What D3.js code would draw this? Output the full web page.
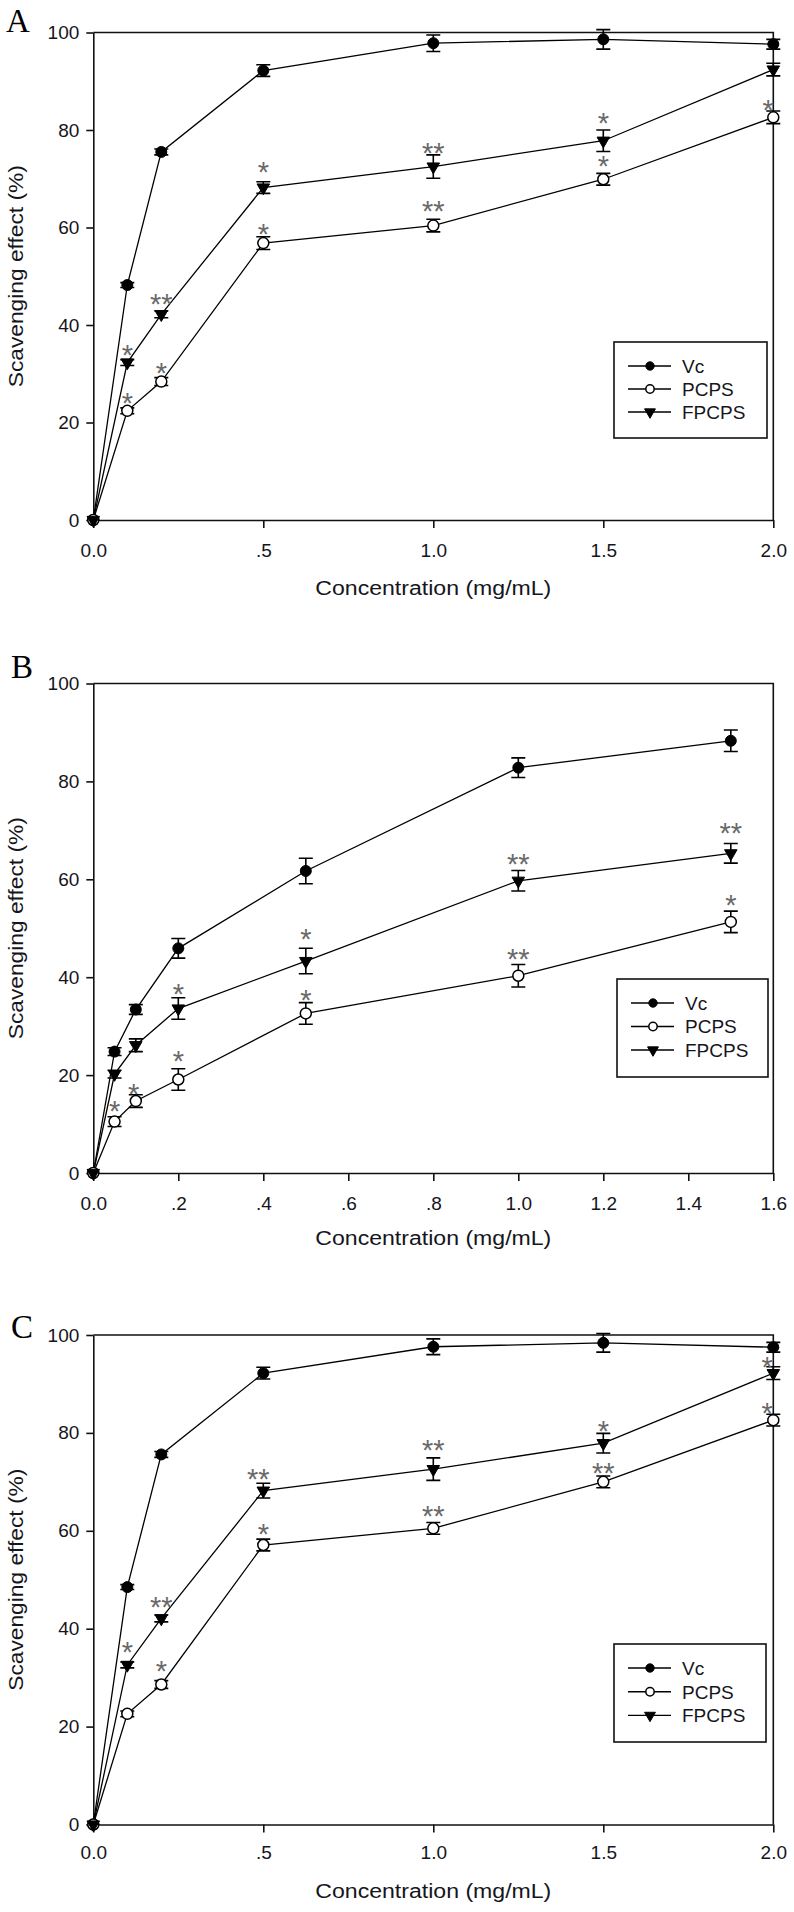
<!DOCTYPE html>
<html><head><meta charset="utf-8">
<script src="https://cdn.jsdelivr.net/npm/d3@7"></script>
<style>body{margin:0;background:#fff}svg text{font-family:"Liberation Sans",Arial,sans-serif}</style>
</head><body>
<svg id="c" width="794" height="1912"></svg>
<script>
// ---------- data ----------
const seriesNames = ["Vc", "PCPS", "FPCPS"];
const yTicks = [0, 20, 40, 60, 80, 100];
const xTicksAC = [0, 0.5, 1.0, 1.5, 2.0];
const xTickLabelsAC = ["0.0", ".5", "1.0", "1.5", "2.0"];
const xTicksB = [0, 0.2, 0.4, 0.6, 0.8, 1.0, 1.2, 1.4, 1.6];
const xTickLabelsB = ["0.0", ".2", ".4", ".6", ".8", "1.0", "1.2", "1.4", "1.6"];

// Panel A
const concA = [0, 0.1, 0.2, 0.5, 1.0, 1.5, 2.0];
const vcA = [0, 48.2, 75.5, 92.2, 97.8, 98.6, 97.6];
const vcErrA = [0.4, 0.5, 0.6, 1.2, 1.7, 2.0, 1.0];
const pcpsA = [0, 22.4, 28.4, 56.8, 60.4, 69.9, 82.6];
const pcpsErrA = [0.4, 0.6, 0.8, 1.3, 1.3, 1.2, 1.3];
const fpcpsA = [0, 32.3, 42.2, 68.2, 72.5, 77.8, 92.4];
const fpcpsErrA = [0.4, 0.6, 0.7, 1.2, 2.4, 2.2, 1.3];
const starXA = [0.1, 0.1, 0.2, 0.2, 0.5, 0.5, 1.0, 1.0, 1.5, 1.5, 1.985];
const starYA = [25.3, 35.3, 31.6, 45.8, 60.0, 72.7, 64.8, 76.6, 74.0, 82.9, 85.5];
const starTA = ["*", "*", "*", "**", "*", "*", "**", "**", "*", "*", "*"];

// Panel B
const concB = [0, 0.05, 0.1, 0.2, 0.5, 1.0, 1.5];
const vcB = [0, 24.8, 33.4, 45.9, 61.7, 82.8, 88.3];
const vcErrB = [0.4, 0.8, 1.0, 2.0, 2.6, 2.0, 2.2];
const pcpsB = [0, 10.5, 14.7, 19.1, 32.6, 40.3, 51.3];
const pcpsErrB = [0.4, 1.0, 1.3, 2.2, 2.2, 2.3, 2.2];
const fpcpsB = [0, 20.2, 26.1, 33.6, 43.3, 59.7, 65.3];
const fpcpsErrB = [0.4, 0.8, 1.3, 2.2, 2.6, 2.1, 2.0];
const starXB = [0.05, 0.095, 0.2, 0.2, 0.5, 0.5, 1.0, 1.0, 1.5, 1.5];
const starYB = [14.1, 17.6, 24.3, 37.9, 36.7, 49.2, 45.2, 64.5, 56.1, 70.9];
const starTB = ["*", "*", "*", "*", "*", "*", "**", "**", "*", "**"];

// Panel C
const concC = [0, 0.1, 0.2, 0.5, 1.0, 1.5, 2.0];
const vcC = [0, 48.5, 75.6, 92.2, 97.6, 98.4, 97.5];
const vcErrC = [0.4, 0.5, 0.6, 1.2, 1.6, 1.9, 1.0];
const pcpsC = [0, 22.6, 28.6, 57.1, 60.5, 70.0, 82.6];
const pcpsErrC = [0.4, 0.6, 0.8, 1.2, 1.2, 1.2, 1.2];
const fpcpsC = [0, 32.6, 42.1, 68.2, 72.6, 77.9, 92.2];
const fpcpsErrC = [0.4, 0.6, 0.7, 1.5, 2.3, 2.0, 1.3];
const starXC = [0.1, 0.2, 0.2, 0.485, 0.5, 1.0, 1.0, 1.5, 1.5, 1.982, 1.982];
const starYC = [36.7, 32.7, 45.9, 71.9, 60.8, 64.4, 78.0, 73.1, 81.8, 85.5, 94.9];
const starTC = ["*", "*", "**", "**", "*", "**", "**", "**", "*", "*", "*"];

// ---------- layout ----------
const panels = [
  { letter: "A", top: 32.5, bottom: 520, xMax: 2.0, xTicks: xTicksAC, xLabels: xTickLabelsAC,
    conc: concA, vals: [vcA, pcpsA, fpcpsA], errs: [vcErrA, pcpsErrA, fpcpsErrA],
    sx: starXA, sy: starYA, st: starTA,
    letterX: 6, letterY: 32, tickPad: 16, titleY: 595,
    legend: { x: 614, y: 342, w: 153, h: 96, row0: 24, rowStep: 23 } },
  { letter: "B", top: 683.5, bottom: 1173, xMax: 1.6, xTicks: xTicksB, xLabels: xTickLabelsB,
    conc: concB, vals: [vcB, pcpsB, fpcpsB], errs: [vcErrB, pcpsErrB, fpcpsErrB],
    sx: starXB, sy: starYB, st: starTB,
    letterX: 11, letterY: 678, tickPad: 16, titleY: 1245,
    legend: { x: 617, y: 979, w: 151, h: 98, row0: 24, rowStep: 23.5 } },
  { letter: "C", top: 1335, bottom: 1824.5, xMax: 2.0, xTicks: xTicksAC, xLabels: xTickLabelsAC,
    conc: concC, vals: [vcC, pcpsC, fpcpsC], errs: [vcErrC, pcpsErrC, fpcpsErrC],
    sx: starXC, sy: starYC, st: starTC,
    letterX: 11, letterY: 1338, tickPad: 13, titleY: 1898,
    legend: { x: 614, y: 1644, w: 152, h: 98, row0: 24, rowStep: 23.7 } }
];
const left = 93.3, right = 773.3;
const ink = "#151520";

const svg = d3.select("#c");

function marker(g, si, size) {
  if (si === 0) {
    g.append("path").attr("d", d3.symbol(d3.symbolCircle, size)()).attr("fill", "#000").attr("stroke", "#000").attr("stroke-width", 1);
  } else if (si === 1) {
    g.append("path").attr("d", d3.symbol(d3.symbolCircle, size)()).attr("fill", "#fff").attr("stroke", "#000").attr("stroke-width", 1.5);
  } else {
    g.append("path").attr("d", d3.symbol(d3.symbolTriangle, size * 0.85)()).attr("transform", "rotate(180)")
      .attr("fill", "#000").attr("stroke", "#000").attr("stroke-width", 1);
  }
}

panels.forEach(p => {
  const x = d3.scaleLinear().domain([0, p.xMax]).range([left, right]);
  const y = d3.scaleLinear().domain([0, 100]).range([p.bottom, p.top]);
  const g = svg.append("g");

  // axes
  const ya = g.append("g").attr("transform", `translate(${left},0)`)
    .call(d3.axisLeft(y).tickValues(yTicks).tickSize(7).tickSizeOuter(0).tickPadding(7).tickFormat(d3.format("d")));
  const xa = g.append("g").attr("transform", `translate(0,${p.bottom})`)
    .call(d3.axisBottom(x).tickValues(p.xTicks).tickSize(8).tickSizeOuter(0).tickPadding(p.tickPad)
      .tickFormat((d, i) => p.xLabels[i]));
  [ya, xa].forEach(a => {
    a.selectAll("path,line").attr("stroke", "#111").attr("stroke-width", 1.6);
    a.selectAll("text").attr("font-size", 19).attr("fill", ink).attr("font-family", "Liberation Sans, Arial, sans-serif");
  });
  // frame top & right
  g.append("path").attr("d", `M${left},${p.top}H${right}V${p.bottom}`).attr("fill", "none").attr("stroke", "#111").attr("stroke-width", 1.6);

  // lines
  const line = d3.line().x((d, i) => x(p.conc[i])).y(d => y(d));
  p.vals.forEach(v => {
    g.append("path").attr("d", line(v)).attr("fill", "none").attr("stroke", "#000").attr("stroke-width", 1.3);
  });
  // error bars
  p.vals.forEach((v, si) => {
    v.forEach((val, i) => {
      const e = p.errs[si][i];
      if (i === 0) return;
      const cx = x(p.conc[i]), y1 = y(val + e), y2 = y(val - e);
      g.append("path").attr("d", `M${cx},${y1}V${y2}M${cx - 7},${y1}H${cx + 7}M${cx - 7},${y2}H${cx + 7}`)
        .attr("stroke", "#000").attr("stroke-width", 1.6).attr("fill", "none");
    });
  });
  // markers
  p.vals.forEach((v, si) => {
    v.forEach((val, i) => {
      const m = g.append("g").attr("transform", `translate(${x(p.conc[i])},${y(val)})`);
      marker(m, si, si === 2 ? 80 : 95);
    });
  });
  // significance stars
  p.st.forEach((t, i) => {
    g.append("text").attr("x", x(p.sx[i])).attr("y", y(p.sy[i])).attr("dy", "0.58em")
      .attr("text-anchor", "middle").attr("font-size", 29).attr("fill", "#6a6a6a").text(t);
  });

  // legend
  const L = p.legend;
  g.append("rect").attr("x", L.x).attr("y", L.y).attr("width", L.w).attr("height", L.h)
    .attr("fill", "#fff").attr("stroke", "#111").attr("stroke-width", 1.6);
  seriesNames.forEach((name, si) => {
    const ry = L.y + L.row0 + si * L.rowStep;
    g.append("line").attr("x1", L.x + 14).attr("x2", L.x + 57).attr("y1", ry).attr("y2", ry)
      .attr("stroke", "#000").attr("stroke-width", 1.4);
    const m = g.append("g").attr("transform", `translate(${L.x + 36},${ry})`);
    marker(m, si, si === 2 ? 60 : 55);
    g.append("text").attr("x", L.x + 68).attr("y", ry).attr("dy", "0.36em")
      .attr("font-size", 19).attr("fill", ink).text(name);
  });

  // titles
  g.append("text").attr("x", (left + right) / 2).attr("y", p.titleY).attr("text-anchor", "middle")
    .attr("font-size", 20).attr("fill", ink).attr("textLength", 236).attr("lengthAdjust", "spacingAndGlyphs")
    .text("Concentration (mg/mL)");
  g.append("text").attr("transform", `translate(23,${(p.top + p.bottom) / 2}) rotate(-90)`)
    .attr("text-anchor", "middle").attr("font-size", 21).attr("fill", ink)
    .attr("textLength", 222).attr("lengthAdjust", "spacingAndGlyphs")
    .text("Scavenging effect (%)");
  g.append("text").attr("x", p.letterX).attr("y", p.letterY)
    .style("font-family", "'Liberation Serif', 'Times New Roman', serif")
    .attr("font-size", 33).attr("fill", "#000").text(p.letter);
});
</script>
</body></html>
